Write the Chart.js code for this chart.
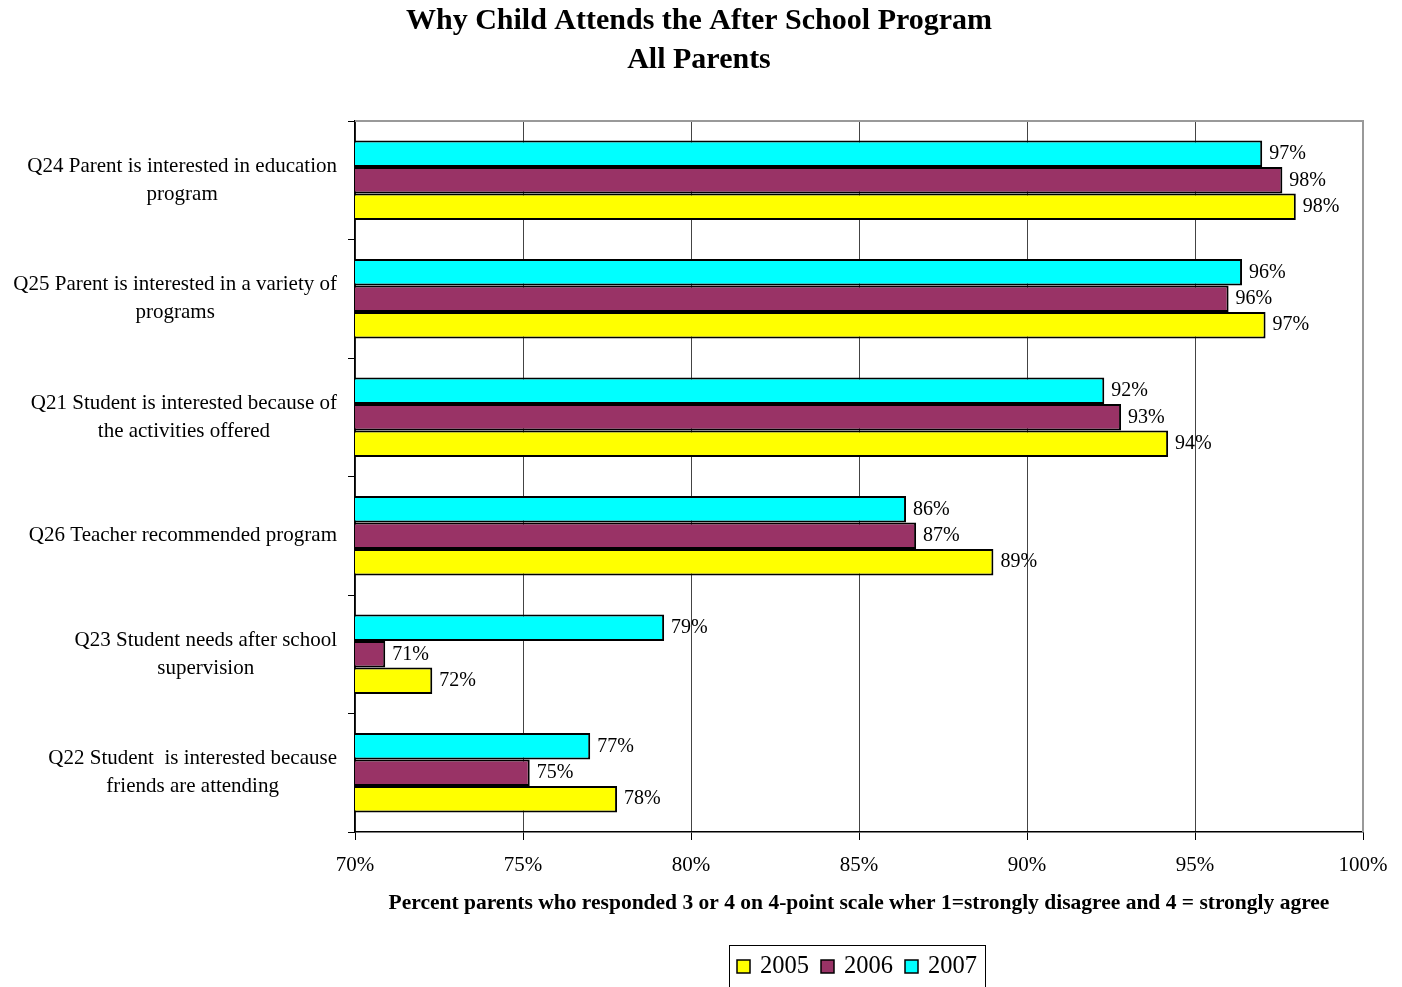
<!DOCTYPE html>
<html>
<head>
<meta charset="utf-8">
<script src="https://cdn.jsdelivr.net/npm/chart.js@4.4.0/dist/chart.umd.min.js"></script>
<style>
  html, body { margin: 0; padding: 0; background: #fff; }
  canvas { display: block; }
</style>
</head>
<body>
<canvas id="myChart" width="1402" height="987"></canvas>
<script>
// data
const categories = [
  ['Q24 Parent is interested in education', 'program'],
  ['Q25 Parent is interested in a variety of', 'programs'],
  ['Q21 Student is interested because of', 'the activities offered'],
  ['Q26 Teacher recommended program'],
  ['Q23 Student needs after school', 'supervision'],
  ['Q22 Student  is interested because', 'friends are attending']
];
const values2005 = [98.0, 97.1, 94.2, 89.0, 72.3, 77.8];
const values2006 = [97.6, 96.0, 92.8, 86.7, 70.9, 75.2];
const values2007 = [97.0, 96.4, 92.3, 86.4, 79.2, 77.0];
const xTicks = [70, 75, 80, 85, 90, 95, 100];

const titleLines = ['Why Child Attends the After School Program', 'All Parents'];
const xTitle = 'Percent parents who responded 3 or 4 on 4-point scale wher 1=strongly disagree and 4 = strongly agree';

const serif = '"Liberation Serif", "Times New Roman", serif';

// top to bottom inside a group: 2007, 2006, 2005
const series = [
  { label: '2007', data: values2007, color: '#00FFFF' },
  { label: '2006', data: values2006, color: '#993366' },
  { label: '2005', data: values2005, color: '#FFFF00' }
];

const textPlugin = {
  id: 'textPlugin',
  beforeDraw(chart) {
    const { ctx } = chart;
    ctx.save();
    ctx.fillStyle = '#fff';
    ctx.fillRect(0, 0, chart.width, chart.height);
    ctx.restore();
  },
  afterDatasetsDraw(chart) {
    const { ctx, chartArea } = chart;
    ctx.save();
    // frame on top and right
    ctx.strokeStyle = '#999';
    ctx.lineWidth = 2;
    ctx.beginPath();
    ctx.moveTo(chartArea.left, chartArea.top);
    ctx.lineTo(chartArea.right, chartArea.top);
    ctx.lineTo(chartArea.right, chartArea.bottom);
    ctx.stroke();

    // value labels
    ctx.fillStyle = '#000';
    ctx.font = '20px ' + serif;
    ctx.textAlign = 'left';
    ctx.textBaseline = 'middle';
    chart.data.datasets.forEach((ds, i) => {
      const meta = chart.getDatasetMeta(i);
      meta.data.forEach((bar, j) => {
        ctx.fillText(Math.round(ds.data[j]) + '%', bar.x + 7, bar.y);
      });
    });
    ctx.restore();
  },
  afterDraw(chart) {
    const { ctx, chartArea } = chart;
    const yScale = chart.scales.y;
    ctx.save();
    ctx.fillStyle = '#000';

    // title
    ctx.font = 'bold 30px ' + serif;
    ctx.textAlign = 'center';
    ctx.textBaseline = 'middle';
    ctx.fillText(titleLines[0], 699, 21);
    ctx.fillText(titleLines[1], 699, 60);

    // category labels
    ctx.font = '21px ' + serif;
    categories.forEach((lines, i) => {
      const cy = yScale.getPixelForValue(i);
      let w = 0;
      lines.forEach((l) => { w = Math.max(w, ctx.measureText(l).width); });
      const cx = 337 - w / 2;
      const start = cy - (lines.length - 1) * 14;
      lines.forEach((l, k) => {
        ctx.fillText(l, cx, start + k * 28);
      });
    });

    // x axis title
    ctx.font = 'bold 21.5px ' + serif;
    ctx.fillText(xTitle, (chartArea.left + chartArea.right) / 2, 903);

    // legend
    const lx = 729, ly = 945;
    ctx.strokeStyle = '#000';
    ctx.lineWidth = 1;
    ctx.strokeRect(lx + 0.5, ly + 0.5, 256, 50);
    ctx.font = '24.5px ' + serif;
    ctx.textAlign = 'left';
    const items = series.slice().reverse();
    const pos = [737, 821, 905];
    items.forEach((s, i) => {
      ctx.fillStyle = s.color;
      ctx.fillRect(pos[i], 960, 13, 13);
      ctx.strokeStyle = '#000';
      ctx.lineWidth = 1.5;
      ctx.strokeRect(pos[i], 960, 13, 13);
      ctx.fillStyle = '#000';
      ctx.fillText(s.label, pos[i] + 23, 967);
    });
    ctx.restore();
  }
};

const ctx = document.querySelector('#myChart');
const chart = new Chart(ctx, {
  type: 'bar',
  data: {
    labels: categories.map((c) => c.join(' ')),
    datasets: series.map((s) => ({
      label: s.label,
      data: s.data,
      backgroundColor: s.color,
      borderColor: '#000',
      borderWidth: 2,
      borderSkipped: false,
      categoryPercentage: 0.67,
      barPercentage: 1
    }))
  },
  options: {
    indexAxis: 'y',
    responsive: false,
    animation: false,
    layout: { padding: { top: 121, right: 39, left: 0, bottom: 0 } },
    plugins: {
      legend: { display: false },
      title: { display: false },
      tooltip: { enabled: false }
    },
    scales: {
      x: {
        min: 70,
        max: 100,
        afterFit(scale) { scale.height = 155; },
        afterBuildTicks(scale) { scale.ticks = xTicks.map((v) => ({ value: v })); },
        ticks: {
          color: '#000',
          font: { family: serif, size: 21 },
          padding: 13,
          maxRotation: 0,
          callback: (v) => v + '%'
        },
        grid: {
          color: '#444',
          lineWidth: 1,
          tickColor: '#000',
          tickLength: 8
        },
        border: { color: '#000', width: 1.5 }
      },
      y: {
        afterFit(scale) { scale.width = 355; },
        ticks: { display: false },
        grid: {
          offset: true,
          drawOnChartArea: false,
          drawTicks: true,
          tickLength: 7,
          tickColor: '#000'
        },
        border: { color: '#000', width: 1.5 }
      }
    }
  },
  plugins: [textPlugin]
});
</script>
</body>
</html>
